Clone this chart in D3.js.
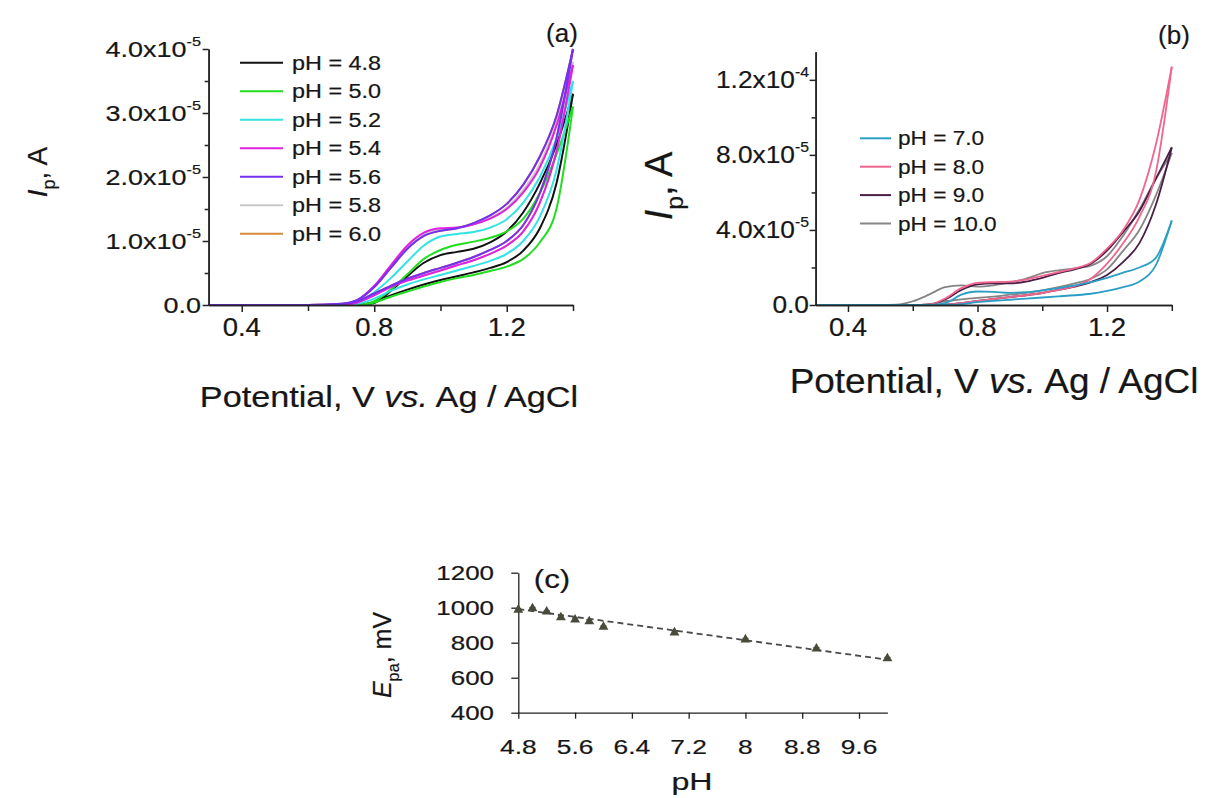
<!DOCTYPE html>
<html><head><meta charset="utf-8">
<script src="https://cdn.jsdelivr.net/npm/d3@7"></script>
<style>html,body{margin:0;padding:0;background:#fff;}svg{display:block;}</style>
</head><body>
<script>
// ---------- DATA ----------
// Panel (a): potentials (V) and currents (x1e-5 A), forward (upper) and reverse (lower) branches
const potA = [0.30,0.60,0.70,0.75,0.80,0.85,0.90,0.95,1.00,1.05,1.10,1.15,1.20,1.25,1.30,1.35,1.40];
const seriesA = ["pH = 4.8","pH = 5.0","pH = 5.2","pH = 5.4","pH = 5.6","pH = 5.8","pH = 6.0"];
const colorsA = ["#111111","#22dd22","#33e3e3","#e022e0","#7430f0","#c8c8c8","#d58a3c"];
const upA_48 = [0,0,0,0,0.03,0.22,0.45,0.66,0.78,0.83,0.88,0.98,1.15,1.45,1.9,2.5,3.3];
const loA_48 = [0,0,0,0,0.05,0.15,0.24,0.32,0.39,0.45,0.51,0.58,0.67,0.85,1.2,1.9,3.3];
const upA_50 = [0,0,0,0,0.06,0.24,0.48,0.72,0.86,0.94,0.99,1.05,1.15,1.35,1.75,2.35,3.1];
const loA_50 = [0,0,0,0,0.04,0.13,0.21,0.29,0.36,0.42,0.47,0.53,0.6,0.72,0.98,1.5,3.1];
const upA_52 = [0,0,0,0.04,0.2,0.42,0.68,0.93,1.07,1.11,1.14,1.21,1.34,1.6,2.0,2.6,3.5];
const loA_52 = [0,0,0,0.02,0.1,0.22,0.32,0.4,0.47,0.54,0.61,0.69,0.8,1.0,1.38,2.1,3.5];
const upA_54 = [0,0,0.01,0.08,0.3,0.62,0.93,1.13,1.2,1.21,1.26,1.35,1.5,1.76,2.15,2.8,3.75];
const loA_54 = [0,0,0,0.04,0.15,0.28,0.38,0.46,0.54,0.62,0.7,0.8,0.93,1.15,1.6,2.4,3.75];
const upA_56 = [0,0,0.02,0.08,0.28,0.58,0.88,1.08,1.16,1.2,1.28,1.4,1.58,1.88,2.32,2.95,4.0];
const loA_56 = [0,0,0.01,0.06,0.18,0.3,0.41,0.5,0.58,0.66,0.75,0.86,1.0,1.25,1.75,2.6,4.0];
const upA_58 = [0,0,0.01,0.07,0.28,0.6,0.9,1.1,1.18,1.2,1.26,1.36,1.52,1.8,2.2,2.85,3.8];
const loA_58 = [0,0,0,0.04,0.15,0.28,0.38,0.46,0.54,0.62,0.7,0.8,0.93,1.15,1.6,2.4,3.8];
const upA_60 = [0,0,0.02,0.08,0.28,0.58,0.88,1.08,1.16,1.2,1.28,1.4,1.58,1.88,2.32,2.95,4.0];
const loA_60 = [0,0,0.01,0.06,0.18,0.3,0.41,0.5,0.58,0.66,0.75,0.86,1.0,1.25,1.75,2.6,4.0];
const upA = [upA_48,upA_50,upA_52,upA_54,upA_56,upA_58,upA_60];
const loA = [loA_48,loA_50,loA_52,loA_54,loA_56,loA_58,loA_60];
const drawOrderA = [6,5,0,1,2,3,4];
const yTicksA = [0,1,2,3,4];           // x1e-5
const yTickLabelsA = [["0.0",""],["1.0x10","-5"],["2.0x10","-5"],["3.0x10","-5"],["4.0x10","-5"]];
const xTicksMajor = [0.4,0.8,1.2];
const xTickLabels = ["0.4","0.8","1.2"];
const xTicksMinor = [0.6,1.0,1.4];

// Panel (b): currents x1e-5 A
const potB = [0.30,0.50,0.55,0.60,0.65,0.70,0.75,0.80,0.85,0.90,0.95,1.00,1.05,1.10,1.15,1.20,1.25,1.30,1.35,1.40];
const seriesB = ["pH = 7.0","pH = 8.0","pH = 9.0","pH = 10.0"];
const colorsB = ["#2a9ec4","#f0658e","#4a1c46","#858585"];
const upB_7  = [0,0,0,0,0,0.1,0.55,0.72,0.7,0.65,0.68,0.78,0.9,1.05,1.22,1.45,1.72,2.0,2.5,4.5];
const loB_7  = [0,0,0,0,0,0,0.05,0.15,0.22,0.28,0.34,0.4,0.46,0.52,0.6,0.75,0.95,1.25,2.1,4.5];
const upB_8  = [0,0,0,0,0.02,0.35,0.9,1.18,1.22,1.25,1.35,1.55,1.75,1.95,2.25,3.0,4.0,5.6,8.5,12.7];
const loB_8  = [0,0,0,0,0,0.02,0.1,0.22,0.32,0.42,0.52,0.64,0.8,1.0,1.4,2.2,3.3,4.7,7.0,12.7];
const upB_9  = [0,0,0,0,0.02,0.3,0.8,1.1,1.15,1.15,1.25,1.45,1.7,1.9,2.2,2.9,3.9,5.0,6.7,8.4];
const loB_9  = [0,0,0,0,0,0.02,0.1,0.22,0.32,0.42,0.52,0.64,0.8,0.98,1.22,1.6,2.3,3.3,5.3,8.4];
const upB_10 = [0,0,0.02,0.2,0.55,0.95,1.05,0.98,1.05,1.2,1.4,1.7,1.85,1.95,2.1,2.6,3.7,5.1,6.7,8.1];
const loB_10 = [0,0,0,0,0.05,0.2,0.3,0.38,0.45,0.55,0.65,0.78,0.95,1.15,1.4,1.9,2.9,4.0,5.8,8.1];
const upB = [upB_7,upB_8,upB_9,upB_10];
const loB = [loB_7,loB_8,loB_9,loB_10];
const drawOrderB = [3,2,1,0];
const yTicksB = [0,4,8,12];
const yTickLabelsB = [["0.0",""],["4.0x10","-5"],["8.0x10","-5"],["1.2x10","-4"]];
const yMinorB = [2,6,10];

// Panel (c)
const phC = [4.8,5.0,5.2,5.4,5.6,5.8,6.0,7.0,8.0,9.0,10.0];
const epaC = [988,996,977,945,932,922,890,858,818,766,710];
const errC = [6,6,6,9,9,9,6,10,6,6,6];
const fitPh = [4.8,10.0];
const fitEpa = [992,703];
const xTicksC = [4.8,5.6,6.4,7.2,8,8.8,9.6];
const xTickLabelsC = ["4.8","5.6","6.4","7.2","8","8.8","9.6"];
const yTicksC = [400,600,800,1000,1200];

// ---------- DRAW ----------
const FONT = "'Liberation Sans', Arial, Helvetica, sans-serif";
const INK = "#161616";
const svg = d3.select("body").append("svg").attr("width",1217).attr("height",798);
svg.append("rect").attr("width",1217).attr("height",798).attr("fill","#fff");

function txt(g, x, y, parts, o) {
  const t = g.append("text")
    .attr("transform", `translate(${x},${y}) rotate(${o.rot||0}) scale(${o.sx||1},${o.sy||1})`)
    .attr("text-anchor", o.anchor||"start").attr("font-size", o.size)
    .attr("font-family", FONT).attr("fill", o.fill||INK)
    .attr("stroke", o.fill||INK).attr("stroke-width", o.sw==null?0.2:o.sw);
  let shift = 0;
  parts.forEach(p => {
    if (p.t === "") return;
    const ts = t.append("tspan").text(p.t);
    if (p.it) ts.attr("font-style","italic");
    let target = 0;
    if (p.sup) { ts.attr("font-size", o.size*0.6); target = -o.size*0.5; }
    if (p.sub) { ts.attr("font-size", o.size*0.65); target = o.size*0.3; }
    if (target !== shift) { ts.attr("dy", target - shift); shift = target; }
  });
  return t;
}

function axisStyle(g, w) {
  g.selectAll("path.domain").attr("stroke","#222").attr("stroke-width",w||1.5);
  g.selectAll(".tick line").attr("stroke","#222").attr("stroke-width",w||1.5);
  g.selectAll(".tick text").remove();
}

function cvPanel(cfg) {
  const g = svg.append("g");
  const x = d3.scaleLinear().domain([0.3,1.4]).range(cfg.xr);
  const y = d3.scaleLinear().domain(cfg.yd).range(cfg.yr);
  const line = d3.line().x((d)=>x(d[0])).y((d)=>y(d[1])).curve(d3.curveMonotoneX);
  cfg.order.forEach(i => {
    [cfg.up[i], cfg.lo[i]].forEach(arr => {
      g.append("path").datum(cfg.pot.map((e,k)=>[e,arr[k]]))
        .attr("d", line).attr("fill","none").attr("stroke", cfg.colors[i])
        .attr("stroke-width", cfg.lw).attr("stroke-linejoin","round");
    });
  });
  const y0 = cfg.yr[0];
  const gx = g.append("g").attr("transform",`translate(0,${y0})`)
    .call(d3.axisBottom(x).tickValues(xTicksMajor).tickSize(7).tickSizeOuter(0));
  axisStyle(gx);
  const gxm = g.append("g").attr("transform",`translate(0,${y0})`)
    .call(d3.axisBottom(x).tickValues(xTicksMinor).tickSize(6).tickSizeOuter(0));
  axisStyle(gxm);
  const gy = g.append("g").attr("transform",`translate(${cfg.xr[0]},0)`)
    .call(d3.axisLeft(y).tickValues(cfg.yTicks).tickSize(6).tickSizeOuter(0));
  axisStyle(gy);
  const gym = g.append("g").attr("transform",`translate(${cfg.xr[0]},0)`)
    .call(d3.axisLeft(y).tickValues(cfg.yMinor).tickSize(4).tickSizeOuter(0));
  axisStyle(gym);
  xTicksMajor.forEach((v,i) => txt(g, x(v), cfg.xLabY, [{t:xTickLabels[i]}], {size:25, anchor:"middle", sx:1.1}));
  cfg.yTicks.forEach((v,i) => txt(g, cfg.yLabX, y(v)+cfg.yLabSize*0.36,
      [{t:cfg.yLabels[i][0]},{t:cfg.yLabels[i][1], sup:true}], {size:cfg.yLabSize, anchor:"end", sx:cfg.yLabSx}));
  cfg.names.forEach((n,i) => {
    const ly = cfg.legY0 + i*cfg.legDy;
    g.append("line").attr("x1",cfg.legX[0]).attr("x2",cfg.legX[1]).attr("y1",ly).attr("y2",ly)
      .attr("stroke",cfg.colors[i]).attr("stroke-width",cfg.legLw);
    txt(g, cfg.legX[2], ly+7, [{t:n}], {size:19.5, sx:cfg.legSx});
  });
  return g;
}

const gA = cvPanel({pot:potA, up:upA, lo:loA, colors:colorsA, order:drawOrderA, names:seriesA,
  xr:[208.6,573], yd:[0,4], yr:[305,49], lw:2, yTicks:yTicksA, yMinor:[0.5,1.5,2.5,3.5],
  yLabels:yTickLabelsA, yLabX:201, yLabSize:22.5, yLabSx:1.2, xLabY:336,
  legX:[240,283,292], legY0:62.7, legDy:28.5, legLw:2, legSx:1.2});
txt(gA, 47, 172, [{t:"I",it:true},{t:"p",sub:true},{t:", A"}], {size:28, anchor:"middle", rot:-90});
txt(gA, 389, 407, [{t:"Potential, V "},{t:"vs.",it:true},{t:" Ag / AgCl"}], {size:29, anchor:"middle", sx:1.18});
txt(gA, 562, 42, [{t:"(a)"}], {size:26, anchor:"middle"});

const gB = cvPanel({pot:potB, up:upB, lo:loB, colors:colorsB, order:drawOrderB, names:seriesB,
  xr:[815.6,1171.8], yd:[0,13.5], yr:[305,51.7], lw:1.8, yTicks:yTicksB, yMinor:yMinorB,
  yLabels:yTickLabelsB, yLabX:809, yLabSize:23.5, yLabSx:1.12, xLabY:336,
  legX:[860,891,898], legY0:138.3, legDy:28.4, legLw:2, legSx:1.16});
txt(gB, 672, 186, [{t:"I",it:true},{t:"p",sub:true},{t:", A"}], {size:38, anchor:"middle", rot:-90});
txt(gB, 994, 393, [{t:"Potential, V "},{t:"vs.",it:true},{t:" Ag / AgCl"}], {size:33, anchor:"middle", sx:1.12, sy:1.08});
txt(gB, 1174, 44, [{t:"(b)"}], {size:26, anchor:"middle"});

// Panel (c)
const gC = svg.append("g");
const xC = d3.scaleLinear().domain([4.8,10]).range([518.3,887.4]);
const yC = d3.scaleLinear().domain([400,1200]).range([712.7,572.7]);
const gcx = gC.append("g").attr("transform",`translate(0,${yC(400)})`)
  .call(d3.axisBottom(xC).tickValues(xTicksC).tickSize(6).tickSizeOuter(0));
axisStyle(gcx, 1.3);
const gcy = gC.append("g").attr("transform",`translate(${xC(4.8)},0)`)
  .call(d3.axisLeft(yC).tickValues(yTicksC).tickSize(7).tickSizeOuter(0));
axisStyle(gcy, 1.3);
xTicksC.forEach((v,i)=>txt(gC, xC(v), 754, [{t:xTickLabelsC[i]}], {size:19.5, anchor:"middle", sx:1.35}));
yTicksC.forEach(v=>txt(gC, 494, yC(v)+7, [{t:String(v)}], {size:19.5, anchor:"end", sx:1.33}));
gC.append("line").attr("x1",xC(fitPh[0])).attr("y1",yC(fitEpa[0])).attr("x2",xC(fitPh[1])).attr("y2",yC(fitEpa[1]))
  .attr("stroke","#4a4a4a").attr("stroke-width",1.8).attr("stroke-dasharray","6,4");
phC.forEach((p,i)=>{
  gC.append("line").attr("x1",xC(p)).attr("x2",xC(p)).attr("y1",yC(epaC[i]-errC[i])).attr("y2",yC(epaC[i]+errC[i]))
    .attr("stroke","#444").attr("stroke-width",1.2);
  [-1,1].forEach(s=>gC.append("line").attr("x1",xC(p)-3).attr("x2",xC(p)+3)
    .attr("y1",yC(epaC[i]+s*errC[i])).attr("y2",yC(epaC[i]+s*errC[i])).attr("stroke","#444").attr("stroke-width",1.2));
  gC.append("path").attr("d", d3.symbol(d3.symbolTriangle, 42)())
    .attr("transform",`translate(${xC(p)},${yC(epaC[i])})`).attr("fill","#474b3a");
});
txt(gC, 391, 655, [{t:"E",it:true},{t:"pa",sub:true},{t:", mV"}], {size:25, anchor:"middle", rot:-90});
txt(gC, 692, 790, [{t:"pH"}], {size:23, anchor:"middle", sx:1.4});
txt(gC, 552, 588, [{t:"(c)"}], {size:26, anchor:"middle", sx:1.2});
</script>
</body></html>
